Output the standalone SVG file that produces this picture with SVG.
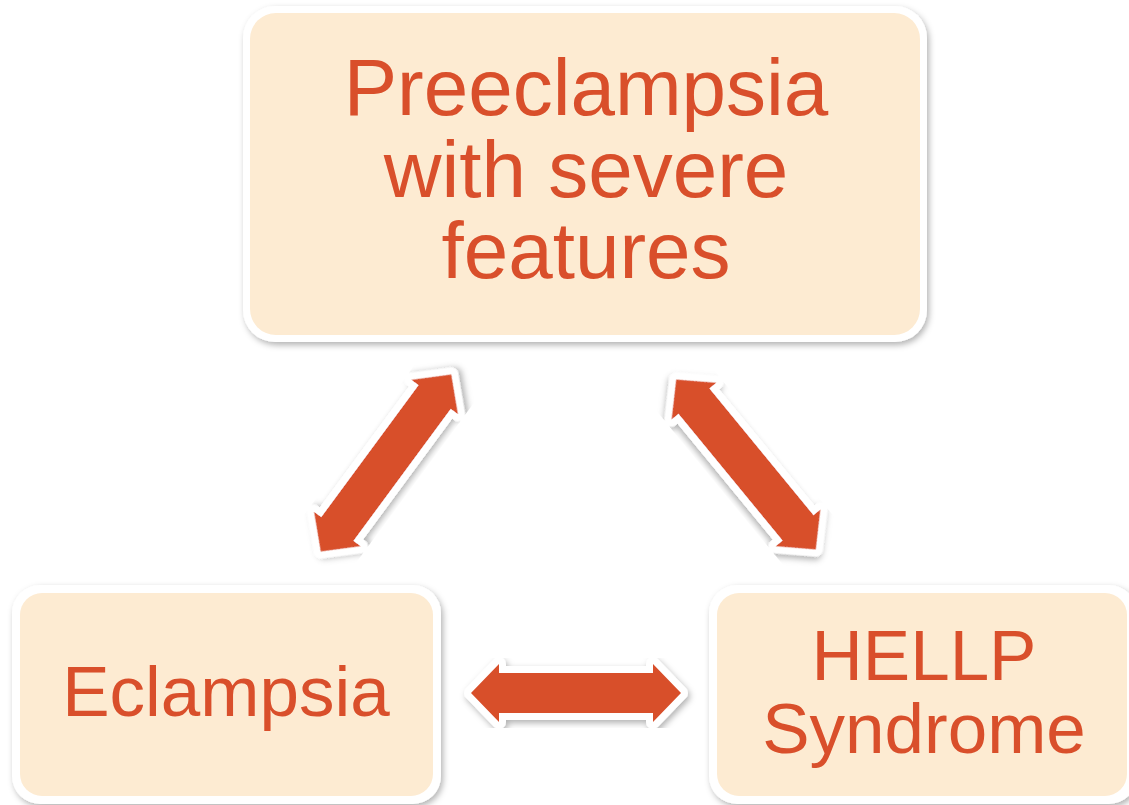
<svg xmlns="http://www.w3.org/2000/svg" width="1129" height="805" viewBox="0 0 1129 805">
<defs>
<filter id="sh" x="-10%" y="-10%" width="120%" height="120%">
<feDropShadow dx="2" dy="3" stdDeviation="3" flood-color="#000" flood-opacity="0.3"/>
</filter>
<path id="arr" d="M-105,0 L-77,-29 L-77,-20 L77,-20 L77,-29 L105,0 L77,29 L77,20 L-77,20 L-77,29 Z"/>
<path id="arrL" d="M-110,0 L-82,-29 L-82,-20 L82,-20 L82,-29 L110,0 L82,29 L82,20 L-82,20 L-82,29 Z"/>
<style>
.outer{fill:#fff;filter:url(#sh)}
.inner{fill:#FDEBD2}
.lbl{font-family:"Liberation Sans",Arial,sans-serif;fill:#D94F2B;text-anchor:middle}
.a{fill:#D84F2B;stroke:#fff;stroke-width:14;stroke-linejoin:round;paint-order:stroke;filter:url(#sh)}
</style>
</defs>
<rect width="1129" height="805" fill="#fff"/>
<g id="node-preeclampsia">
<rect class="outer" x="243" y="6" width="684" height="336" rx="32"/>
<rect class="inner" x="250" y="13" width="670" height="322" rx="26"/>
<text class="lbl" font-size="80" x="586" y="115">Preeclampsia</text>
<text class="lbl" font-size="80" x="586" y="197">with severe</text>
<text class="lbl" font-size="80" x="586" y="278">features</text>
</g>
<g id="node-eclampsia">
<rect class="outer" x="12" y="585" width="429" height="219" rx="28"/>
<rect class="inner" x="20" y="593" width="413" height="203" rx="22"/>
<text class="lbl" font-size="71" x="226" y="716">Eclampsia</text>
</g>
<g id="node-hellp">
<rect class="outer" x="709" y="585" width="428" height="219" rx="28"/>
<rect class="inner" x="717" y="593" width="410" height="203" rx="22"/>
<text class="lbl" font-size="71" x="924" y="680">HELLP</text>
<text class="lbl" font-size="71" x="924" y="753">Syndrome</text>
</g>
<g id="connectors">
<use href="#arr" class="a" transform="translate(576,693)"/>
<use href="#arrL" class="a" transform="translate(386,463) rotate(-53.6)"/>
<use href="#arrL" class="a" transform="translate(746,464.5) rotate(50.6)"/>
</g>
</svg>
